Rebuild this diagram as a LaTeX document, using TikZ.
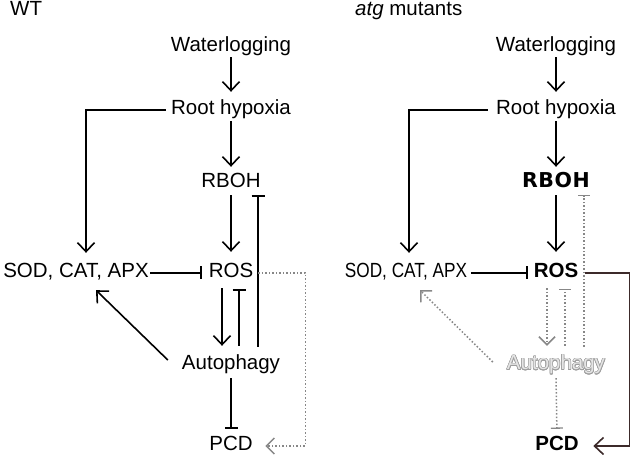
\documentclass[tikz,border=0pt]{standalone}
\usepackage{fontspec}
\setmainfont{Liberation Sans}
\newfontfamily\condfont[FakeStretch=0.84]{Liberation Sans}
\newfontfamily\heavyfont[LetterSpace=3]{DejaVu Sans}
\usepackage{contour}
\contourlength{0.6pt}
\usetikzlibrary{arrows.meta}
\definecolor{dotgray}{RGB}{135,135,135}
\definecolor{darkline}{RGB}{60,42,42}
\tikzset{
  lbl/.style={anchor=base, inner sep=0pt, text height=14pt, text depth=4pt,
              font=\fontsize{20.5}{23}\selectfont},
  act/.style={-{Straight Barb[length=9pt,width=17pt]}, line width=1.6pt},
  inh/.style={-{Bar[width=13pt]}, line width=1.6pt},
  gact/.style={-{Straight Barb[length=8pt,width=16pt]}, line width=1.5pt, dotgray, dotted},
  ginh/.style={-{Bar[width=12pt,line width=1.3pt]}, line width=1.5pt, dotgray, dotted},
}
\begin{document}
\begin{tikzpicture}[x=1pt,y=1pt]
\useasboundingbox (0,0) rectangle (633,455);
% ---------- WT ----------
\node[lbl,anchor=base west] (wt) at (10,439) {WT};
\node[lbl] (wl) at (231,403) {Waterlogging};
\node[lbl] (rh) at (231,340) {Root hypoxia};
\node[lbl] (rboh) at (231,267) {RBOH};
\node[lbl] (ros) at (231,177) {ROS};
\node[lbl] (sod) at (76,177) {SOD, CAT, APX};
\node[lbl] (aut) at (231,85) {Autophagy};
\node[lbl] (pcd) at (231,4) {PCD};

\draw[act,shorten <=1pt,shorten >=9pt] (wl.south) -- (rh.north);
\draw[act,shorten <=2pt,shorten >=7pt] (rh.south) -- (rboh.north);
\draw[act,shorten <=3pt,shorten >=12pt] (rboh.south) -- (ros.north);
\draw[act,shorten <=5pt,shorten >=11pt] (rh.west) -| ([xshift=10pt]sod.north);
\draw[inh,shorten <=1.5pt,shorten >=7pt] (sod.east) -- (ros.west);
\draw[act,shorten <=6pt,shorten >=10pt] ([xshift=-9pt]ros.south) -- ([xshift=-9pt]aut.north);
\draw[inh,shorten <=10pt,shorten >=7pt] ([xshift=8pt]aut.north) -- ([xshift=8pt]ros.south);
\draw[inh,shorten <=9pt,shorten >=3pt] ([xshift=27pt]aut.north) -- ([xshift=27pt]rboh.south);
\draw[act] ([shift={(-14pt,5pt)}]aut.west) -- ([shift={(20pt,-8pt)}]sod.south);
\draw[inh,shorten <=4pt,shorten >=8pt] (aut.south) -- (pcd.north);
\draw[gact,shorten <=5pt,shorten >=12.5pt] (ros.east) -- ++(52pt,0) |- (pcd.east);

% ---------- atg mutants ----------
\node[lbl,anchor=base west] (atg) at (355,439) {\textit{atg} mutants};
\node[lbl] (wl2) at (556,403) {Waterlogging};
\node[lbl] (rh2) at (556,340) {Root hypoxia};
\node[lbl] (rboh2) at (556,267) {\heavyfont\bfseries RBOH};
\node[lbl] (ros2) at (556,177) {\bfseries ROS};
\node[lbl] (sod2) at (406,177) {\condfont SOD, CAT, APX};
\node[lbl] (aut2) at (556,85) {\contour{black!38}{\textcolor{black!10}{Autophagy}}};
\node[lbl] (pcd2) at (557,4) {\bfseries PCD};

\draw[act,shorten <=1pt,shorten >=9pt] (wl2.south) -- (rh2.north);
\draw[act,shorten <=2pt,shorten >=7pt] (rh2.south) -- (rboh2.north);
\draw[act,shorten <=3pt,shorten >=12pt] (rboh2.south) -- (ros2.north);
\draw[act,shorten <=8pt,shorten >=11pt] (rh2.west) -| ([xshift=3pt]sod2.north);
\draw[inh,shorten <=3.5pt,shorten >=6pt] (sod2.east) -- (ros2.west);
\draw[act,darkline,shorten <=7pt,shorten >=14.5pt] (ros2.east) -- ++(51pt,0) |- (pcd2.east);
\draw[gact,shorten <=6pt,shorten >=10pt] ([xshift=-9pt]ros2.south) -- ([xshift=-9pt]aut2.north);
\draw[ginh,shorten <=10pt,shorten >=7pt] ([xshift=9pt]aut2.north) -- ([xshift=9pt]ros2.south);
\draw[ginh,shorten <=9pt,shorten >=3pt] ([xshift=28pt]aut2.north) -- ([xshift=28pt]rboh2.south);
\draw[gact] ([shift={(-14pt,3pt)}]aut2.west) -- ([shift={(14pt,-8pt)}]sod2.south);
\draw[ginh,shorten <=4pt,shorten >=8pt] (aut2.south) -- (pcd2.north);
\end{tikzpicture}
\end{document}
